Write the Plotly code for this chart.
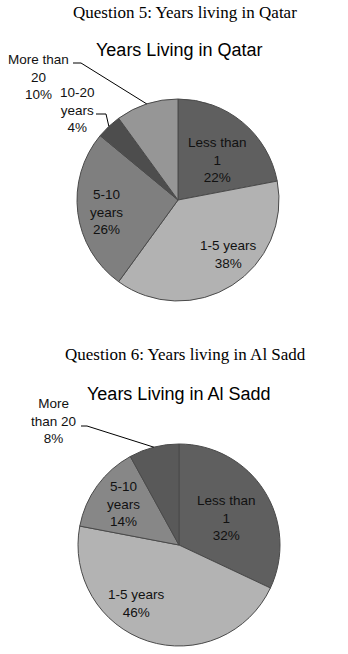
import math
import plotly.graph_objects as go

W, H = 348, 654

# ---- data ----
q5_labels = ["Less than 1", "1-5 years", "5-10 years", "10-20 years", "More than 20"]
q5_values = [22, 38, 26, 4, 10]
q5_text = ["Less than<br>1<br>22%", "1-5 years<br>38%", "5-10<br>years<br>26%",
           "10-20<br>years<br>4%", "More than<br>20<br>10%"]
q5_colors = ["#5f5f5f", "#b2b2b2", "#7f7f7f", "#4d4d4d", "#969696"]

q6_labels = ["Less than 1", "1-5 years", "5-10 years", "More than 20"]
q6_values = [32, 46, 14, 8]
q6_text = ["Less than<br>1<br>32%", "1-5 years<br>46%", "5-10<br>years<br>14%",
           "More<br>than 20<br>8%"]
q6_colors = ["#5f5f5f", "#b3b3b3", "#878787", "#595959"]

# ---- geometry (pixels) ----
R = 101
C5 = (178, 200)
C6 = (179, 545)

# label text centres (pixels)
q5_pos = [(217, 160), (228, 254), (106, 212), (77, 110), (38, 77)]
q6_pos = [(227, 518), (136, 603), (123, 504), (53, 421)]
# leader stubs for outside labels: (x start, x end, y)
q5_leaders = {3: (96, 106, 114), 4: (73, 81, 63)}
q6_leaders = {3: (81, 87, 426)}


def px(x):
    return x / W


def py(y):
    return 1 - y / H


def domain(c):
    return dict(x=[px(c[0] - R), px(c[0] + R)], y=[py(c[1] + R), py(c[1] - R)])


fig = go.Figure()
for vals, labs, cols, c in [(q5_values, q5_labels, q5_colors, C5),
                            (q6_values, q6_labels, q6_colors, C6)]:
    fig.add_trace(go.Pie(
        values=vals, labels=labs, sort=False, direction="clockwise", rotation=0,
        marker=dict(colors=cols, line=dict(color="#4a4a4a", width=1)),
        textinfo="none", hoverinfo="label+percent", showlegend=False,
        domain=domain(c)))

annotations = []
shapes = []


def add_labels(vals, texts, pos, leaders, c):
    total = sum(vals)
    cum = 0
    for i, v in enumerate(vals):
        mid = math.radians(360 * (cum + v / 2) / total)
        cum += v
        x, y = pos[i]
        annotations.append(dict(x=px(x), y=py(y), xref="paper", yref="paper",
                                text=texts[i], showarrow=False,
                                font=dict(family="Liberation Sans, Arial", size=13.5, color="#111"),
                                xanchor="center", yanchor="middle", align="center"))
        if i in leaders:
            x0, x1, yl = leaders[i]
            ex = c[0] + R * math.sin(mid)
            ey = c[1] - R * math.cos(mid)
            shapes.append(dict(type="path", xref="paper", yref="paper",
                               path=f"M {px(x0)},{py(yl)} L {px(x1)},{py(yl)} L {px(ex)},{py(ey)}",
                               line=dict(color="#000", width=1)))


add_labels(q5_values, q5_text, q5_pos, q5_leaders, C5)
add_labels(q6_values, q6_text, q6_pos, q6_leaders, C6)

titles = [
    ("Question 5: Years living in Qatar", 185, 12, "Liberation Serif, Times New Roman", 17),
    ("Years Living in Qatar", 179, 50, "Liberation Sans, Arial", 18),
    ("Question 6: Years living in Al Sadd", 186, 354, "Liberation Serif, Times New Roman", 17),
    ("Years Living in Al Sadd", 178, 394, "Liberation Sans, Arial", 18),
]
for t, x, y, fam, sz in titles:
    annotations.append(dict(x=px(x), y=py(y), xref="paper", yref="paper", text=t,
                            showarrow=False, font=dict(family=fam, size=sz, color="#000"),
                            xanchor="center", yanchor="middle"))

fig.update_layout(width=W, height=H, margin=dict(l=0, r=0, t=0, b=0),
                  paper_bgcolor="white", plot_bgcolor="white",
                  annotations=annotations, shapes=shapes)
fig.write_html("out.html", config={"displayModeBar": False},
               post_script="document.body.style.margin='0';document.body.style.overflow='hidden';")
